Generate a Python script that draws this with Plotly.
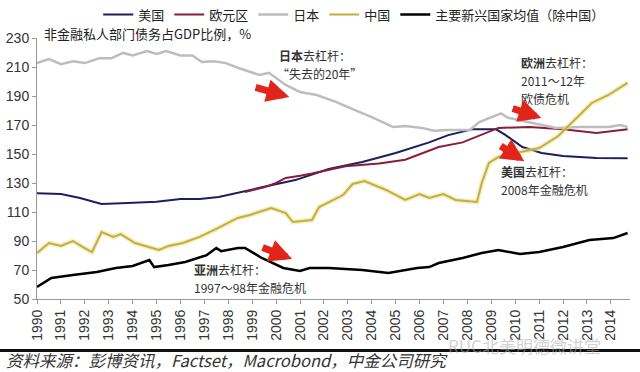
import plotly.graph_objects as go

# ---- data ----
japan_years = [1990, 1990.5, 1991, 1991.5, 1992, 1992.6, 1993.1, 1993.6, 1994, 1994.6, 1995, 1995.4,
               1996, 1996.5, 1996.9, 1997.4, 1997.9, 1998.4, 1999.3, 1999.7, 2000.4, 2001, 2001.7,
               2002.5, 2003.3, 2004, 2004.9, 2005.4, 2006.1, 2006.6, 2007.2, 2008.1, 2008.5, 2009.4,
               2009.7, 2010.5, 2011.1, 2011.7, 2012.7, 2013.9, 2014.4, 2014.7]
japan = [212.7, 215.5, 212, 214, 212.7, 216, 216, 219.7, 218, 221, 219, 221,
         218, 218, 213.4, 214, 212.7, 209.5, 204.5, 206, 197.6, 192.8, 190.7,
         185.9, 180.3, 175.5, 168.6, 169.3, 168, 166, 166.6, 166.6, 172, 178,
         175, 172, 170, 168, 168.6, 168.6, 170, 168.6]

us_years = [1990, 1991, 1991.8, 1992.7, 1993.8, 1995, 1996, 1996.8, 1997.6, 1998.4, 1999.4, 2000.8,
            2002.2, 2003.6, 2005, 2006.4, 2006.8, 2007.2, 2008.2, 2009.2, 2009.6, 2010.3, 2011.1,
            2012, 2013.4, 2014.7]
us = [123, 122.4, 119.6, 115.5, 116.2, 117, 119, 119, 120.3, 123.5, 127, 132,
      139.7, 144.5, 150.7, 158, 160.5, 163, 167, 167, 163, 154.8, 150.7,
      148.6, 147.2, 147]

euro_years = [1998.7, 1999.5, 2000.0, 2000.4, 2001.0, 2001.5, 2002.9, 2004.3, 2005.4, 2006.4, 2006.8,
              2007.8, 2008.8, 2009.3, 2010.6, 2012, 2013.4, 2014.7]
euro = [123.8, 127, 130, 133.5, 135, 136.5, 141.5, 143.5, 146, 152.5, 154.8,
        158, 165, 168, 168.6, 167, 164.5, 167]

china_years = [1990, 1990.5, 1991, 1991.5, 1991.9, 1992.3, 1992.7, 1993.2, 1993.5, 1994.1, 1995.1,
               1995.5, 1996.1, 1996.8, 1997.5, 1998, 1998.4, 1998.9, 1999.8, 2000.4, 2000.7, 2001.5,
               2001.8, 2002.8, 2003.2, 2003.7, 2004.6, 2005.4, 2006, 2006.4, 2007, 2007.5, 2008.4,
               2008.6, 2008.9, 2009.3, 2010.2, 2011, 2011.8, 2012.6, 2013.2, 2013.9, 2014.7]
china = [81.7, 88.6, 86.6, 90, 85.9, 82.4, 96.2, 92.8, 94.8, 88.6, 83.8,
         86.6, 88.6, 92.8, 98.3, 102.4, 105.9, 107.9, 112.8, 109.3, 103.1, 104.5,
         113.4, 121.7, 129.3, 131.4, 125.2, 118.3, 122.4, 119.7, 122.4, 118.3, 116.9,
         130, 143.8, 148, 151.4, 154.1, 162.4, 175.5, 185.2, 190.7, 199]

em_years = [1990, 1990.6, 1991.5, 1992.5, 1993.3, 1994, 1994.7, 1994.9, 1995.5, 1996.2, 1997.1,
            1997.5, 1997.7, 1998.4, 1998.7, 1999.4, 2000.3, 2001, 2001.4, 2002.2, 2003.6, 2004.7,
            2005.9, 2006.4, 2006.8, 2007.8, 2008.6, 2009.3, 2010.2, 2011, 2012, 2013.1, 2014.1, 2014.7]
em = [58.3, 64.5, 66.6, 68.6, 71.4, 72.8, 76.9, 72, 73.4, 75.5, 80.3,
      85.2, 83, 85.2, 85.2, 78.3, 71.4, 69.3, 71.4, 71.4, 70, 67.9,
      71.4, 72, 74.8, 78.3, 81.7, 83.8, 81, 82.4, 85.9, 90.7, 92, 95.5]

tick_years = list(range(1990, 2015))
y_ticks = [50, 70, 90, 110, 130, 150, 170, 190, 210, 230]

CJK = "Noto Sans CJK SC"
SANS = "Liberation Sans"

fig = go.Figure()
fig.add_trace(go.Scatter(x=us_years, y=us, mode="lines", name="美国",
                         line=dict(color="#1c1f5e", width=2)))
fig.add_trace(go.Scatter(x=euro_years, y=euro, mode="lines", name="欧元区",
                         line=dict(color="#8a1c3c", width=2)))
fig.add_trace(go.Scatter(x=japan_years, y=japan, mode="lines", name="日本",
                         line=dict(color="#bdbdbd", width=2.5)))
fig.add_trace(go.Scatter(x=china_years, y=china, mode="lines", showlegend=False, hoverinfo="skip",
                         line=dict(color="rgba(235,225,150,0.55)", width=5)))
fig.add_trace(go.Scatter(x=china_years, y=china, mode="lines", name="中国",
                         line=dict(color="#c5ad3e", width=2)))
fig.add_trace(go.Scatter(x=em_years, y=em, mode="lines", name="主要新兴国家均值（除中国）",
                         line=dict(color="#000000", width=2.5)))

ann_font = dict(family=CJK, size=12, color="#333333")


def label(x, y, text, anchor="left"):
    return dict(x=x, y=y, xanchor=anchor, yanchor="middle", text=text,
                showarrow=False, font=ann_font)


annotations = [
    dict(xref="paper", yref="paper", x=0.008, y=1.019, xanchor="left", yanchor="middle",
         text="非金融私人部门债务占GDP比例，%", showarrow=False,
         font=dict(family=CJK, size=13, color="#222222")),
    label(2001.63, 217.6, "<b>日本</b>去杠杆：", "center"),
    label(2001.8, 205.2, "“失去的20年”", "center"),
    label(2010.17, 213.0, "<b>欧洲</b>去杠杆："),
    label(2010.17, 200.6, "2011～12年"),
    label(2010.17, 188.2, "欧债危机"),
    label(2009.33, 138.2, "<b>美国</b>去杠杆："),
    label(2009.33, 125.8, "2008年金融危机"),
    label(1996.49, 70.6, "<b>亚洲</b>去杠杆："),
    label(1996.49, 58.2, "1997～98年金融危机"),
    dict(xref="paper", yref="paper", x=-0.055, y=-0.232, xanchor="left", yanchor="middle",
         text="<i>资料来源：彭博资讯，Factset，Macrobond，中金公司研究</i>", showarrow=False,
         font=dict(family=CJK, size=16.5, color="#333333")),
    dict(xref="paper", yref="paper", x=0.69, y=-0.18, xanchor="left", yanchor="middle",
         text="RUC北美明德微讲堂", showarrow=False,
         font=dict(family=CJK, size=17, color="rgba(170,170,170,0.55)")),
]

# red arrows (tail -> head, in data coordinates)
arrows = [
    (1999.08, 196.2, 2000.55, 189.3),
    (2009.83, 181.7, 2011.09, 174.8),
    (2009.33, 156.2, 2010.38, 145.0),
    (1999.37, 85.9, 2000.67, 77.6),
]
for x0, y0, x1, y1 in arrows:
    annotations.append(dict(x=x1, y=y1, ax=x0, ay=y0, axref="x", ayref="y",
                            xref="x", yref="y", showarrow=True, text="",
                            arrowcolor="#e0261c", arrowwidth=7, arrowhead=2, arrowsize=0.65,
                            standoff=0, startstandoff=0))

fig.update_layout(
    width=640, height=372,
    margin=dict(l=37, r=10, t=38, b=73, autoexpand=False),
    paper_bgcolor="white", plot_bgcolor="white",
    showlegend=True,
    legend=dict(orientation="h", x=0.535, xanchor="center", y=1.09, yanchor="middle",
                font=dict(family=CJK, size=13, color="#222222"),
                itemwidth=30, tracegroupgap=0, bgcolor="rgba(0,0,0,0)"),
    annotations=annotations,
    shapes=[dict(type="line", xref="paper", yref="paper", x0=-0.07, x1=1.02,
                 y0=-0.197, y1=-0.197, line=dict(color="#111111", width=3))],
    xaxis=dict(range=[1990, 2014.8], tickmode="array", tickvals=tick_years,
               ticktext=[str(y) for y in tick_years], tickangle=-90, automargin=False,
               showgrid=False, zeroline=False, showline=True, linecolor="#999999", linewidth=1,
               ticks="outside", ticklen=4, tickcolor="#999999",
               tickfont=dict(family=SANS, size=14, color="#333333")),
    yaxis=dict(range=[50, 230], tickmode="array", tickvals=y_ticks, automargin=False,
               showgrid=False, zeroline=False, showline=True, linecolor="#999999", linewidth=1,
               ticks="outside", ticklen=4, tickcolor="#999999",
               tickfont=dict(family=SANS, size=14, color="#333333")),
)

fig.write_html("out.html", config={"displayModeBar": False},
               post_script="document.body.style.margin='0';document.body.style.overflow='hidden';")
